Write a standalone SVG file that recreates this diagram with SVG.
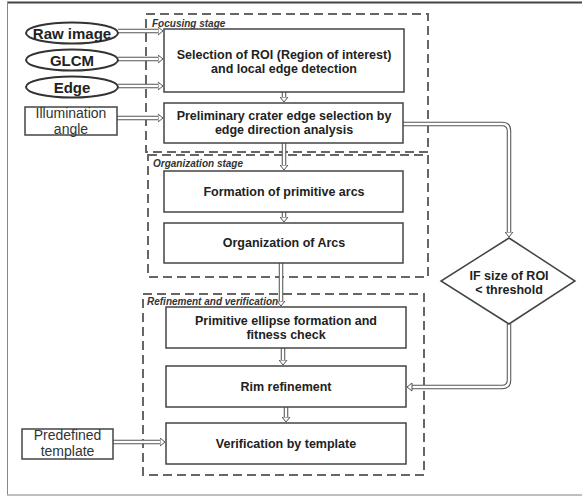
<svg xmlns="http://www.w3.org/2000/svg" width="582" height="498" viewBox="0 0 582 498">
<defs>
<style>
.stage{fill:none;stroke:#666;stroke-width:2;stroke-dasharray:9 5}
.slabel{font-family:"Liberation Sans",Arial,sans-serif;font-size:10px;font-weight:bold;font-style:italic;fill:#333}
.box{fill:#fff;stroke:#444;stroke-width:1.5}
.ell{fill:#fff;stroke:#333;stroke-width:2}
.bt{font-family:"Liberation Sans",Arial,sans-serif;font-size:12.5px;font-weight:bold;fill:#222;text-anchor:middle}
.et{font-family:"Liberation Sans",Arial,sans-serif;font-size:15px;font-weight:bold;fill:#222;text-anchor:middle}
.rt{font-family:"Liberation Sans",Arial,sans-serif;font-size:14px;fill:#333;text-anchor:middle}
.co{fill:none;stroke:#555;stroke-width:4.5}
.ci{fill:none;stroke:#fff;stroke-width:2.4;marker-end:url(#ah)}
</style>
<marker id="ah" viewBox="0 0 6 9" refX="0.5" refY="4.5" markerWidth="6" markerHeight="9" markerUnits="userSpaceOnUse" orient="auto">
<path d="M0.5,0.5 L5.5,4.5 L0.5,8.5 Z" fill="#fff" stroke="#555" stroke-width="1"/>
</marker>
</defs>
<rect width="582" height="498" fill="#fff"/>
<g id="frame">
<line x1="7" y1="2.5" x2="582" y2="2.5" stroke="#444" stroke-width="2"/>
<line x1="7.5" y1="2" x2="7.5" y2="495" stroke="#888" stroke-width="1"/>
<line x1="7" y1="495" x2="582" y2="495" stroke="#aaa" stroke-width="1.5"/>
</g>
<g id="stages">
<rect class="stage" x="146" y="14" width="282" height="138"/>
<rect class="stage" x="148" y="155" width="280" height="122"/>
<rect class="stage" x="143" y="294" width="281" height="181"/>
<text class="slabel" x="152" y="27">Focusing stage</text>
<text class="slabel" x="153" y="167">Organization stage</text>
<text class="slabel" x="147" y="305">Refinement and verification</text>
</g>
<g id="connectors">
<path class="co" d="M118,31 H158"/><path class="ci" d="M118,31 H158"/>
<path class="co" d="M118,59 H158"/><path class="ci" d="M118,59 H158"/>
<path class="co" d="M118,86 H158"/><path class="ci" d="M118,86 H158"/>
<path class="co" d="M117,118 H158"/><path class="ci" d="M117,118 H158"/>
<path class="co" d="M284,92 V97"/><path class="ci" d="M284,92 V97"/>
<path class="co" d="M284,143 V165"/><path class="ci" d="M284,143 V165"/>
<path class="co" d="M284,212 V217"/><path class="ci" d="M284,212 V217"/>
<path class="co" d="M281,263 V301"/><path class="ci" d="M281,263 V301"/>
<path class="co" d="M283,348 V360"/><path class="ci" d="M283,348 V360"/>
<path class="co" d="M286,407 V417"/><path class="ci" d="M286,407 V417"/>
<path class="co" d="M403,124 H502 Q509,124 509,131 V232"/><path class="ci" d="M403,124 H502 Q509,124 509,131 V232"/>
<path class="co" d="M509,324 V380 Q509,387 502,387 H412"/><path class="ci" d="M509,324 V380 Q509,387 502,387 H412"/>
<path class="co" d="M113,442 H160"/><path class="ci" d="M113,442 H160"/>
</g>
<g id="raw-image">
<ellipse class="ell" cx="72" cy="33" rx="46" ry="10.5"/>
<text class="et" x="72" y="38.5">Raw image</text>
</g>
<g id="glcm">
<ellipse class="ell" cx="72" cy="60" rx="46" ry="10.5"/>
<text class="et" x="72" y="65.5">GLCM</text>
</g>
<g id="edge">
<ellipse class="ell" cx="72" cy="87" rx="46" ry="10.5"/>
<text class="et" x="72" y="92.5">Edge</text>
</g>
<g id="illumination">
<rect class="box" x="25" y="107" width="92" height="28"/>
<text class="rt" x="71" y="117.5">Illumination</text>
<text class="rt" x="71" y="133.5">angle</text>
</g>
<g id="predefined">
<rect class="box" x="22" y="429" width="91" height="30"/>
<text class="rt" x="67.5" y="440">Predefined</text>
<text class="rt" x="67.5" y="456">template</text>
</g>
<g id="roi-selection">
<rect class="box" x="164" y="29" width="240" height="63"/>
<text class="bt" x="284" y="58.5">Selection of ROI (Region of interest)</text>
<text class="bt" x="284" y="73">and local edge detection</text>
</g>
<g id="preliminary">
<rect class="box" x="164" y="103" width="239" height="40"/>
<text class="bt" x="284" y="119.5">Preliminary crater edge selection by</text>
<text class="bt" x="284" y="134">edge direction analysis</text>
</g>
<g id="formation">
<rect class="box" x="164" y="171" width="239" height="41"/>
<text class="bt" x="284" y="195.5">Formation of primitive arcs</text>
</g>
<g id="organization">
<rect class="box" x="164" y="223" width="239" height="40"/>
<text class="bt" x="284" y="246.5">Organization of Arcs</text>
</g>
<g id="ellipse-formation">
<rect class="box" x="166" y="307" width="240" height="41"/>
<text class="bt" x="286" y="324.5">Primitive ellipse formation and</text>
<text class="bt" x="286" y="339">fitness check</text>
</g>
<g id="rim-refinement">
<rect class="box" x="166" y="366" width="240" height="41"/>
<text class="bt" x="286" y="391">Rim refinement</text>
</g>
<g id="verification">
<rect class="box" x="166" y="423" width="240" height="41"/>
<text class="bt" x="286" y="448">Verification by template</text>
</g>
<g id="decision">
<polygon class="box" points="509,238 575,281 509,324 441,281"/>
<text class="bt" x="509" y="279.5">IF size of ROI</text>
<text class="bt" x="509" y="294">&lt; threshold</text>
</g>
</svg>
